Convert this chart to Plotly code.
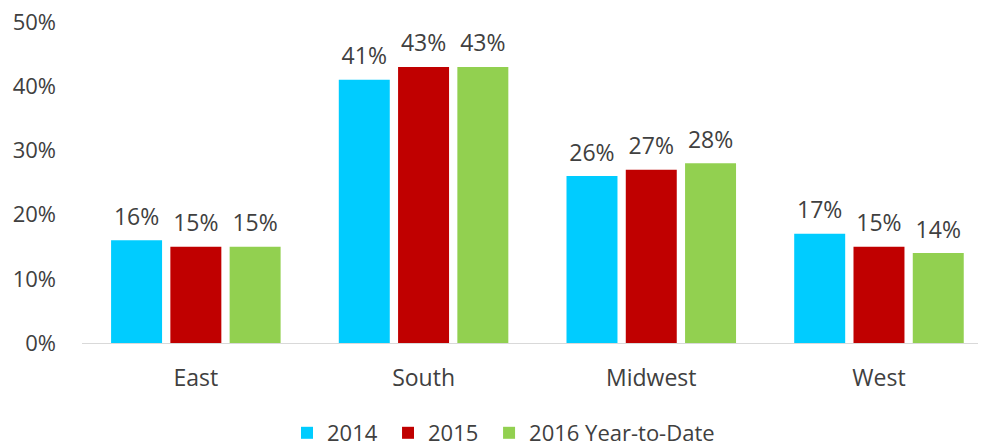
import plotly.graph_objects as go

regions = ["East", "South", "Midwest", "West"]
series_names = ["2014", "2015", "2016 Year-to-Date"]
v2014 = [16, 41, 26, 17]
v2015 = [15, 43, 27, 15]
v2016 = [15, 43, 28, 14]
colors = ["#00CCFF", "#C00000", "#92D050"]
ytick_vals = [0, 10, 20, 30, 40, 50]
ytick_text = ["0%", "10%", "20%", "30%", "40%", "50%"]

font_family = "'Open Sans', 'Noto Sans', sans-serif"
txt_color = "#404040"
FS = 23

# page has an 8px body margin; figure sized so it fits the 986x447 window
W, H = 978, 439

bargap = 0.219
bargroupgap = 0.14
xpos = list(range(len(regions)))
slot = (1 - bargap) / len(series_names)

fig = go.Figure()
all_vals = [v2014, v2015, v2016]
for k, (name, vals, col) in enumerate(zip(series_names, all_vals, colors)):
    pad = "\u00a0" if k < len(series_names) - 1 else ""
    fig.add_trace(go.Bar(
        x=xpos, y=vals, name=name + pad, marker_color=col,
        marker_line_width=0,
    ))
for k, (name, vals) in enumerate(zip(series_names, all_vals)):
    off = (k - (len(series_names) - 1) / 2) * slot
    fig.add_trace(go.Scatter(
        x=[p + off for p in xpos], y=vals, mode="markers+text",
        marker=dict(size=14, opacity=0),
        text=[f"{v}%" for v in vals], textposition="top center",
        textfont=dict(size=FS, color=txt_color, family=font_family),
        showlegend=False, hoverinfo="skip", cliponaxis=False,
    ))

fig.update_layout(
    width=W, height=H,
    margin=dict(l=74, r=0, t=14, b=104),
    paper_bgcolor="white", plot_bgcolor="white",
    barmode="group", bargap=bargap, bargroupgap=bargroupgap,
    font=dict(family=font_family, size=FS, color=txt_color),
    showlegend=True,
    legend=dict(orientation="h", xref="container", yref="container",
                x=279 / W, xanchor="left", y=1 - 425 / H, yanchor="middle",
                font=dict(size=22, color=txt_color), itemwidth=30,
                traceorder="normal"),
)
fig.update_yaxes(range=[0, 50], tickvals=ytick_vals, ticktext=ytick_text,
                 showgrid=False, zeroline=False, showline=False,
                 ticks="", ticklabelstandoff=25, automargin=False,
                 ticklabeloverflow="allow",
                 tickfont=dict(size=22, color=txt_color))
fig.update_xaxes(range=[-0.5, 3.47], tickvals=xpos, ticktext=regions,
                 showgrid=False, zeroline=False,
                 showline=True, linecolor="#D9D9D9", linewidth=1,
                 ticks="", ticklabelstandoff=14, automargin=False,
                 ticklabeloverflow="allow",
                 tickfont=dict(size=FS, color=txt_color))

fig.write_html("out.html")
